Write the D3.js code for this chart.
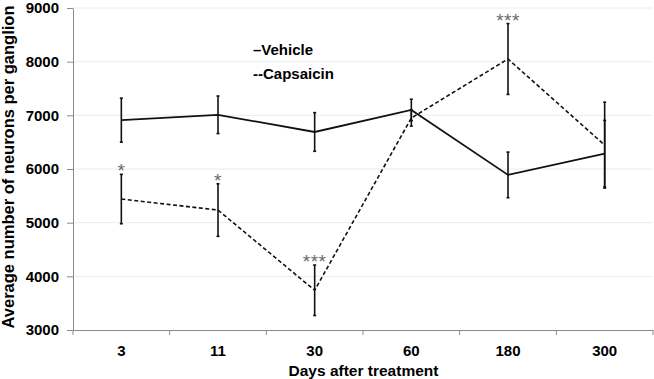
<!DOCTYPE html>
<html>
<head>
<meta charset="utf-8">
<script src="https://cdn.jsdelivr.net/npm/d3@7"></script>
<style>
  body { margin: 0; background: #fff; }
  svg { font-family: Arial, "Liberation Sans", sans-serif; }
</style>
</head>
<body>
<svg id="chart"></svg>
<script>
const width = 654;
const height = 379;
const margins = { top: 8, right: 1, bottom: 49, left: 73 };

const days = ["3", "11", "30", "60", "180", "300"];
const vehicleMean = [6910, 7010, 6690, 7100, 5890, 6285];
const vehicleErr = [410, 350, 360, 200, 425, 620];
const capsaicinMean = [5440, 5235, 3740, 6950, 8050, 6445];
const capsaicinErr = [460, 490, 470, 150, 660, 800];
const stars = ["*", "*", "***", "", "***", ""];
const yTicks = [3000, 4000, 5000, 6000, 7000, 8000, 9000];

const svg = d3.select("#chart").attr("width", width).attr("height", height);

const x = d3
  .scaleBand()
  .domain(days)
  .range([margins.left, width - margins.right]);

const y = d3
  .scaleLinear()
  .domain([3000, 9000])
  .range([height - margins.bottom, margins.top]);

const cx = (d) => x(d) + x.bandwidth() / 2;
const fontFamily = "Arial, 'Liberation Sans', sans-serif";

// gridlines
svg
  .append("g")
  .selectAll("line")
  .data(yTicks.slice(1))
  .join("line")
  .attr("x1", margins.left)
  .attr("x2", width - margins.right)
  .attr("y1", (d) => y(d))
  .attr("y2", (d) => y(d))
  .attr("stroke", "#e6edf7")
  .attr("stroke-width", 1);

// y axis
const yAxis = svg
  .append("g")
  .attr("transform", `translate(${margins.left}, 0)`)
  .call(
    d3
      .axisLeft(y)
      .tickValues(yTicks)
      .tickFormat(d3.format("d"))
      .tickSize(6)
      .tickSizeOuter(0)
      .tickPadding(8)
  );
yAxis.select(".domain").attr("stroke", "#8a8a8a");
yAxis.selectAll(".tick line").attr("stroke", "#8a8a8a");
yAxis
  .selectAll("text")
  .attr("font-size", "15px")
  .attr("font-weight", "bold")
  .attr("fill", "#000")
  .attr("font-family", fontFamily);

// x axis
const xAxis = svg
  .append("g")
  .attr("transform", `translate(0, ${y(3000)})`)
  .call(d3.axisBottom(x).tickSize(0).tickPadding(15));
xAxis.select(".domain").attr("stroke", "#8a8a8a");
xAxis
  .selectAll("text")
  .attr("font-size", "15px")
  .attr("font-weight", "bold")
  .attr("fill", "#000")
  .attr("font-family", fontFamily);

// x band boundary ticks
const edges = days.map((d) => x(d)).concat([x(days[days.length - 1]) + x.bandwidth()]);
svg
  .append("g")
  .selectAll("line")
  .data(edges)
  .join("line")
  .attr("x1", (d) => d)
  .attr("x2", (d) => d)
  .attr("y1", y(3000))
  .attr("y2", y(3000) + 5)
  .attr("stroke", "#8a8a8a");

// axis titles
svg
  .append("text")
  .attr("x", (margins.left + width) / 2)
  .attr("y", height - 3)
  .attr("text-anchor", "middle")
  .attr("font-size", "15.5px")
  .attr("font-weight", "bold")
  .text("Days after treatment");

svg
  .append("text")
  .attr("transform", `translate(14, ${y(6000) - 2}) rotate(-90)`)
  .attr("text-anchor", "middle")
  .attr("font-size", "16.5px")
  .attr("font-weight", "bold")
  .text("Average number of neurons per ganglion");

// error bars
const drawErrors = (means, errs) => {
  const g = svg.append("g").attr("stroke", "#111").attr("stroke-width", 1.6);
  days.forEach((d, i) => {
    const top = y(means[i] + errs[i]);
    const bot = y(means[i] - errs[i]);
    g.append("line").attr("x1", cx(d)).attr("x2", cx(d)).attr("y1", top).attr("y2", bot);
    g.append("line").attr("x1", cx(d) - 1.5).attr("x2", cx(d) + 1.5).attr("y1", top).attr("y2", top);
    g.append("line").attr("x1", cx(d) - 1.5).attr("x2", cx(d) + 1.5).attr("y1", bot).attr("y2", bot);
  });
};
drawErrors(vehicleMean, vehicleErr);
drawErrors(capsaicinMean, capsaicinErr);

// lines
const line = d3
  .line()
  .x((d, i) => cx(days[i]))
  .y((d) => y(d));

svg
  .append("path")
  .datum(vehicleMean)
  .attr("d", line)
  .attr("fill", "none")
  .attr("stroke", "#111")
  .attr("stroke-width", 1.8);

svg
  .append("path")
  .datum(capsaicinMean)
  .attr("d", line)
  .attr("fill", "none")
  .attr("stroke", "#111")
  .attr("stroke-width", 1.6)
  .attr("stroke-dasharray", "4,2.5");

// significance stars
svg
  .append("g")
  .selectAll("text")
  .data(stars)
  .join("text")
  .attr("x", (d, i) => cx(days[i]))
  .attr("y", (d, i) => y(capsaicinMean[i] + capsaicinErr[i]) + 3)
  .attr("text-anchor", "middle")
  .attr("font-size", "19px")
  .attr("fill", "#6a6a6a")
  .attr("letter-spacing", "0.5px")
  .text((d) => d);

// legend
const legend = svg.append("g").attr("font-size", "15px").attr("font-weight", "bold");
legend.append("text").attr("x", 253).attr("y", 55).text("\u2013Vehicle");
legend.append("text").attr("x", 253).attr("y", 79).text("--Capsaicin");
</script>
</body>
</html>
